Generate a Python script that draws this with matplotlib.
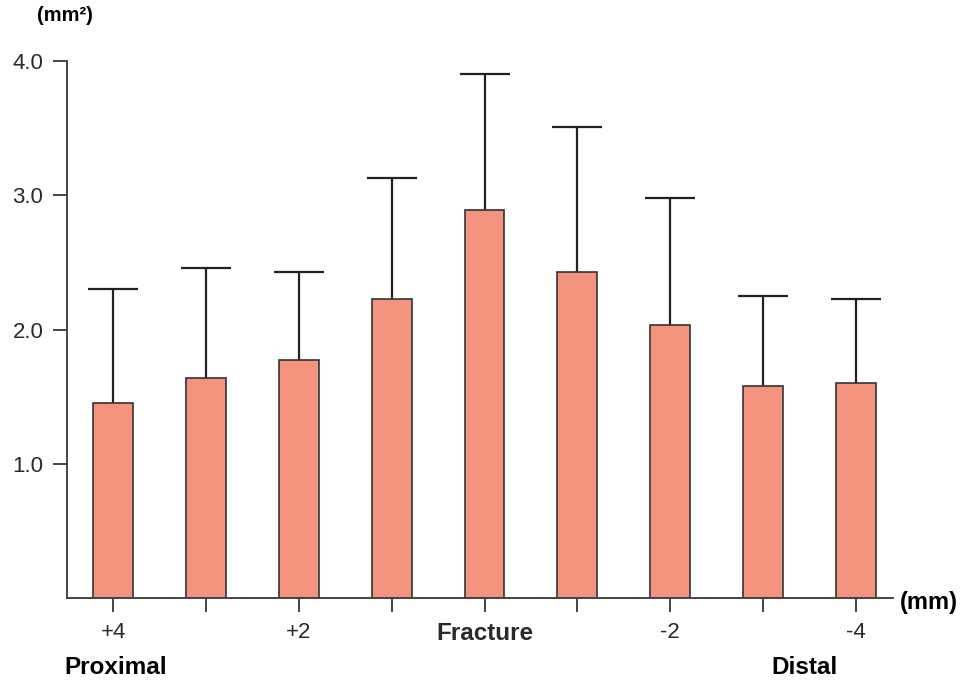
import matplotlib
matplotlib.use("Agg")
import matplotlib.pyplot as plt

plt.rcParams['font.family'] = ['Liberation Sans', 'DejaVu Sans']

# cross-sectional area along the bone, proximal -> distal
positions = [0, 1, 2, 3, 4, 5, 6, 7, 8]
tick_labels = ['+4', '', '+2', '', 'Fracture', '', '-2', '', '-4']
means = [1.45, 1.64, 1.77, 2.23, 2.89, 2.43, 2.03, 1.58, 1.60]
upper = [2.30, 2.46, 2.43, 3.13, 3.90, 3.51, 2.98, 2.25, 2.23]
err = [u - m for u, m in zip(upper, means)]

fig = plt.figure(figsize=(9.61, 6.86), dpi=100)
ax = fig.add_axes([0.0697, 0.1283, 0.8593, 0.7827])

ax.bar(positions, means, width=0.43, color='#F4937D', edgecolor='#333333', linewidth=1.2, zorder=2)
eb = ax.errorbar(positions, means, yerr=[[0] * len(err), err], fmt='none', ecolor='#222222',
                 elinewidth=1.6, capsize=18, capthick=1.6, zorder=1)
# only the upper cap is drawn in the original
eb[1][0].set_visible(False)

ax.set_xlim(-0.5, 8.4)
ax.set_ylim(0, 4.0)
ax.set_yticks([1.0, 2.0, 3.0, 4.0])
ax.set_yticklabels(['1.0', '2.0', '3.0', '4.0'], fontsize=16, color='#2a2a2a')
ax.set_xticks(positions)
ax.set_xticklabels(tick_labels, fontsize=16, color='#2a2a2a')
for lab in ax.get_xticklabels():
    if lab.get_text() == 'Fracture':
        lab.set_fontweight('bold')
        lab.set_fontsize(17.5)

ax.spines['top'].set_visible(False)
ax.spines['right'].set_visible(False)
for s in ['left', 'bottom']:
    ax.spines[s].set_linewidth(1.4)
    ax.spines[s].set_color('#444444')
ax.tick_params(axis='y', direction='out', length=10, width=1.4, color='#444444', pad=7)
ax.tick_params(axis='x', direction='out', length=10, width=1.4, color='#444444', pad=7)

fig.text(0.039, 0.978, '(mm²)', fontsize=14.5, fontweight='bold', ha='left', va='center')
fig.text(0.936, 0.121, '(mm)', fontsize=17, fontweight='bold', ha='left', va='center')
fig.text(0.067, 0.027, 'Proximal', fontsize=17.5, fontweight='bold', ha='left', va='center')
fig.text(0.803, 0.027, 'Distal', fontsize=17.5, fontweight='bold', ha='left', va='center')

fig.savefig('out.png', dpi=100)
